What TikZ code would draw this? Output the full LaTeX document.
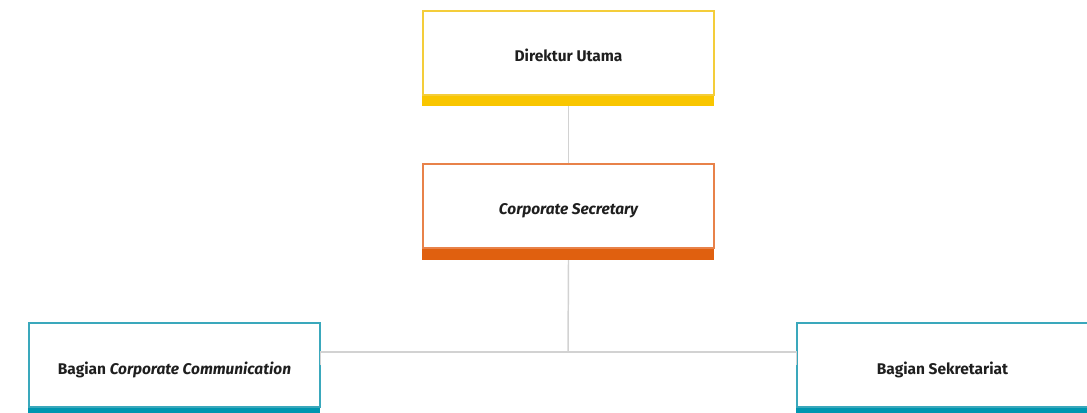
\documentclass[tikz,border=0pt]{standalone}
\usepackage{fontspec}
\setmainfont{Fira Sans}
\definecolor{yel}{HTML}{F9C600}
\definecolor{yelb}{HTML}{F4CD3A}
\definecolor{ora}{HTML}{E0600F}
\definecolor{orab}{HTML}{E8824A}
\definecolor{tea}{HTML}{0096B0}
\definecolor{teab}{HTML}{3AA8BC}
\definecolor{conn}{HTML}{D2D2D2}
\tikzset{
  orgbox/.style={draw=#1, line width=1pt, fill=white, rectangle, minimum width=218.25pt, minimum height=63pt, inner sep=0pt, font=\fontsize{11.6}{13}\selectfont\bfseries, text=black!88},
  link/.style={draw=conn, line width=1.1pt}
}
\newcommand{\lowered}[2]{\raisebox{-#1}[\height][\depth]{#2}}
\begin{document}
\begin{tikzpicture}[x=0.75pt,y=-0.75pt]
\useasboundingbox (0,0) rectangle (1087,413);
\coordinate (j) at (568,352);
\node[orgbox=yelb] (du) at (568.5,53) {\lowered{1.5pt}{Direktur Utama}};
\node[orgbox=orab] (cs) at (568.5,206) {\lowered{3.6pt}{\itshape Corporate Secretary}};
\node[orgbox=teab] (cc) at (174.5,365) {\lowered{3.6pt}{Bagian \textit{Corporate Communication}}};
\node[orgbox=teab] (bs) at (942.5,365) {\lowered{3.6pt}{Bagian Sekretariat}};
\draw[link] (du.south) ++(0,10) -- (cs.north);
\draw[link] (cs.south) ++(0,11) -- (j);
\draw[link] (cc.east) |- (j) -| (bs.west);
\fill[yel] (du.south west) rectangle ++(292,10);
\fill[ora] (cs.south west) rectangle ++(292,11);
\fill[tea] (cc.south west) rectangle ++(292,10);
\fill[tea] (bs.south west) rectangle ++(292,10);
\end{tikzpicture}
\end{document}
